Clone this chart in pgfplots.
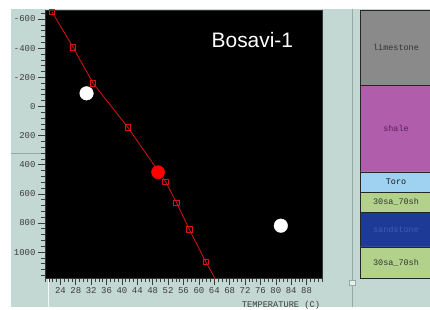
\documentclass[border=0pt]{standalone}
\usepackage{pgfplots}
\pgfplotsset{compat=1.18}
\usepackage{fontspec}
\setmainfont{Liberation Sans}
\newfontfamily\monofont{Liberation Mono}
\definecolor{panel}{RGB}{196,216,211}
\definecolor{panelline}{RGB}{150,170,166}
\definecolor{tickgray}{RGB}{60,60,60}
\definecolor{redline}{RGB}{215,20,20}
\definecolor{limecol}{RGB}{138,138,138}
\definecolor{shalecol}{RGB}{176,94,172}
\definecolor{torocol}{RGB}{158,210,240}
\definecolor{mixcol}{RGB}{178,210,140}
\definecolor{sandcol}{RGB}{28,58,150}
\begin{document}
\begin{tikzpicture}[x=1bp,y=1bp]
\path[use as bounding box] (0,0) rectangle (430,310);
\clip (0,0) rectangle (430,310);
\fill[white] (0,0) rectangle (430,310);
\fill[panel] (11,3) rectangle (430,301);
\draw[panelline, line width=0.8bp] (11,157) -- (45,157);
\draw[white!80!panel, line width=0.8bp] (48,3) -- (48,32);
\draw[panelline, line width=1bp] (352,3) -- (352,301);
\fill[white!60!panel, draw=panelline] (349,24.5) rectangle (355,29.5);

\begin{axis}[
  at={(45bp,32bp)}, anchor=south west,
  scale only axis, width=277bp, height=268bp,
  xmin=20, xmax=92, ymin=-662, ymax=1178,
  y dir=reverse,
  axis background/.style={fill=black},
  axis line style={draw=black!80},
  xtick={24,28,...,88},
  minor xtick={20,21,...,92},
  ytick={-600,-400,...,1000},
  minor ytick={-640,-600,...,1160},
  xtick pos=bottom, ytick pos=left,
  tick align=outside,
  major tick length=7bp, minor tick length=4bp,
  every tick/.style={color=tickgray, line width=0.6bp},
  scaled y ticks=false,
  /pgf/number format/assume math mode=true,
  /pgf/number format/1000 sep={},
  tick label style={font=\monofont\fontsize{9}{10}\selectfont, color=tickgray},
  yticklabel style={xshift=1bp},
  xticklabel style={yshift=1bp},
  clip mode=individual,
]
\addplot[redline, line width=0.8bp, no markers] coordinates {
  (21.8,-650) (27.3,-406) (32.5,-159) (41.6,146) (51.35,517) (54.2,661) (57.5,844) (61.8,1068) (64.6,1200)
};
\addplot[redline, only marks, mark=square, mark size=2.8bp, mark options={line width=0.8bp}] coordinates {
  (21.8,-650) (27.3,-406) (32.5,-159) (41.6,146) (51.35,517) (54.2,661) (57.5,844) (61.8,1068)
};
\addplot[only marks, mark=*, mark size=6.8bp, white, mark options={fill=white, draw=white}] coordinates {
  (30.8,-90) (81.3,819)
};
\addplot[only marks, mark=*, mark size=6.6bp, mark options={fill=red, draw=red}] coordinates {
  (49.4,452)
};
\node[white, anchor=west, inner sep=0pt, font=\fontsize{21}{21}\selectfont] at (axis description cs:0.601,0.888) {Bosavi-1};
\node[tickgray, anchor=north, inner sep=0pt, font=\monofont\fontsize{8.7}{9}\selectfont] at (axis description cs:0.852,-0.087) {TEMPERATURE (C)};
\end{axis}

\begin{axis}[
  at={(360bp,32bp)}, anchor=south west,
  scale only axis, width=72bp, height=268bp,
  xmin=0, xmax=1, ymin=-662, ymax=1178,
  y dir=reverse, hide axis, clip=false,
]
\addplot[fill=limecol, draw=black!85, line width=0.8bp] coordinates {(0,-662) (1,-662) (1,-147) (0,-147) (0,-662)};
\addplot[fill=shalecol, draw=black!85, line width=0.8bp] coordinates {(0,-147) (1,-147) (1,450) (0,450) (0,-147)};
\addplot[fill=torocol, draw=black!85, line width=0.8bp] coordinates {(0,450) (1,450) (1,588) (0,588) (0,450)};
\addplot[fill=mixcol, draw=black!85, line width=0.8bp] coordinates {(0,588) (1,588) (1,725) (0,725) (0,588)};
\addplot[fill=sandcol, draw=black!85, line width=0.8bp] coordinates {(0,725) (1,725) (1,965) (0,965) (0,725)};
\addplot[fill=mixcol, draw=black!85, line width=0.8bp] coordinates {(0,965) (1,965) (1,1178) (0,1178) (0,965)};
\tikzset{lith/.style={font=\monofont\fontsize{8.5}{9}\selectfont, inner sep=0pt}}
\node[lith, color=black!80] at (axis cs:0.5,-404) {limestone};
\node[lith, color={rgb,255:red,90;green,30;blue,90}] at (axis cs:0.5,151) {shale};
\node[lith, color=black!90] at (axis cs:0.5,519) {Toro};
\node[lith, color=black!80] at (axis cs:0.5,656) {30sa\_70sh};
\node[lith, color={rgb,255:red,70;green,90;blue,180}] at (axis cs:0.5,845) {sandstone};
\node[lith, color=black!80] at (axis cs:0.5,1071) {30sa\_70sh};
\end{axis}
\end{tikzpicture}
\end{document}
